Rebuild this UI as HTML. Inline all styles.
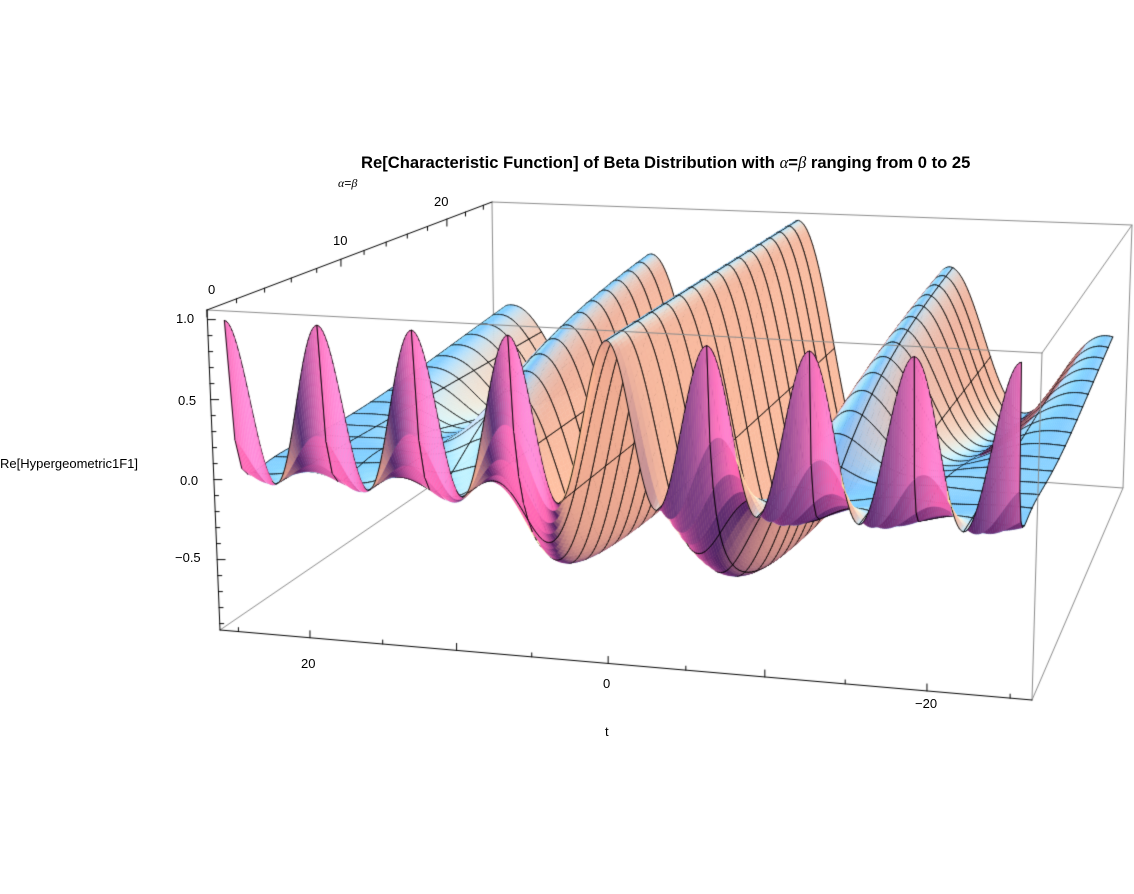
<!DOCTYPE html>
<html><head><meta charset="utf-8"><style>
html,body{margin:0;padding:0;background:#fff;width:1134px;height:894px;overflow:hidden}
#c{position:absolute;left:0;top:0}
.t{position:absolute;font-family:"Liberation Sans",sans-serif;font-size:13px;color:#000;white-space:nowrap;line-height:1}
i{font-family:"Liberation Serif",serif}
</style></head><body>
<canvas id="c" width="1134" height="894"></canvas>
<div class="t" style="left:361px;top:155px;font-size:16.6px;font-weight:bold;letter-spacing:0px">Re[Characteristic Function] of Beta Distribution with <i style="font-weight:normal">α</i>=<i style="font-weight:normal">β</i> ranging from 0 to 25</div>
<div class="t" style="left:338px;top:177px;font-size:12px"><i>α</i>=<i>β</i></div>
<div class="t" style="left:434px;top:195px">20</div>
<div class="t" style="left:333px;top:234px">10</div>
<div class="t" style="left:208px;top:283px">0</div>
<div class="t" style="left:176px;top:312px">1.0</div>
<div class="t" style="left:178px;top:394px">0.5</div>
<div class="t" style="left:180px;top:474px">0.0</div>
<div class="t" style="left:175px;top:551px">−0.5</div>
<div class="t" style="left:0px;top:457px">Re[Hypergeometric1F1]</div>
<div class="t" style="left:301px;top:657px">20</div>
<div class="t" style="left:603px;top:677px">0</div>
<div class="t" style="left:915px;top:697px">−20</div>
<div class="t" style="left:605px;top:725px">t</div>
<script>
const cv=document.getElementById('c'),g=cv.getContext('2d');
const C={H:[220,630],E:[1032,700],A:[207,310],D:[1042,353],B:[492,202],Cc:[1132,225],G:[495,442],F:[1123,488]};
function tri(u,v,w){
 const c000=C.H,c100=C.E,c001=C.A,c101=C.D,c011=C.B,c111=C.Cc,c010=C.G,c110=C.F;
 const r=[0,0];
 for(let k=0;k<2;k++){
  const x00=c000[k]*(1-u)+c100[k]*u, x10=c010[k]*(1-u)+c110[k]*u;
  const x01=c001[k]*(1-u)+c101[k]*u, x11=c011[k]*(1-u)+c111[k]*u;
  const b=x00*(1-v)+x10*v, t=x01*(1-v)+x11*v;
  r[k]=b*(1-w)+t*w;}
 return r;}
const TB=26.3;
function U(t){const s=(TB-t)/(2*TB);return s/(s+1.092*(1-s));}
function V(a){const s=a/25;return 1.33*s/(1+0.33*s);}
function W(z){return (z+0.94)/2.0;}
function f(t,a){const b=a+0.5,x=-t*t/16;let term=1,sum=1;
 for(let k=0;k<120;k++){term*=x/((b+k)*(k+1));sum+=term;if(Math.abs(term)<1e-14&&k>10)break;}
 return Math.cos(t/2)*sum;}
function P3(u,v,w){return [812*u+275*v-13*w,70*u-188*v-320*w,-282*u+745*v-117*w];}
function line(p,q,col,lw){g.strokeStyle=col;g.lineWidth=lw;g.beginPath();g.moveTo(p[0],p[1]);g.lineTo(q[0],q[1]);g.stroke();}
const gray='#8a8a8a';
line(C.B,C.Cc,gray,1);line(C.B,C.G,gray,1);line(C.G,C.H,gray,1);line(C.G,C.F,gray,1);line(C.Cc,C.F,gray,1);
const NT=400,NA=64,T=8*Math.PI;
const pts=[];
for(let j=0;j<=NA;j++){const a=25*j/NA,row=[];
 for(let i=0;i<=NT;i++){const t=T-2*T*i/NT;let z=f(t,a);const u=U(t),v=V(a),w=W(z);
  row.push({s:tri(u,v,w),p:P3(u,v,w)});}
 pts.push(row);}
const L=[
 [[-0.5,1,0.3],[0.15,0.62,0.6]],
 [[1,0.2,-0.6],[1.05,0.9,0.3]],
 [[-1,-0.3,0.5],[0.75,0.3,0.35]],
 [[0,0.5,1],[0.1,0.17,0.16]]
].map(([d,c])=>{const n=Math.hypot(...d);return [d.map(x=>x/n),c];});
const AMB=[0.3,0.12,0.38];
const quads=[];
for(let j=0;j<NA;j++)for(let i=0;i<NT;i++){
 const a=pts[j][i],b=pts[j][i+1],c=pts[j+1][i+1],d=pts[j+1][i];
 const e1=[c.p[0]-a.p[0],c.p[1]-a.p[1],c.p[2]-a.p[2]],e2=[d.p[0]-b.p[0],d.p[1]-b.p[1],d.p[2]-b.p[2]];
 let n=[e1[1]*e2[2]-e1[2]*e2[1],e1[2]*e2[0]-e1[0]*e2[2],e1[0]*e2[1]-e1[1]*e2[0]];
 if(n[2]>0)n=n.map(x=>-x);
 const nl=Math.hypot(...n);const m=[n[0]/nl,-n[1]/nl,-n[2]/nl];
 let col=AMB.slice();
 for(const [dd,cc] of L){const dt=Math.max(0,m[0]*dd[0]+m[1]*dd[1]+m[2]*dd[2]);for(let k=0;k<3;k++)col[k]+=dt*cc[k];}
 const cs='rgb('+col.map(x=>Math.min(255,Math.round(x*255))).join(',')+')';
 const depth=(a.p[2]+b.p[2]+c.p[2]+d.p[2])/4;
 quads.push({a,b,c,d,cs,depth,i,j});}
quads.sort((x,y)=>y.depth-x.depth);
g.lineJoin='round';g.lineCap='round';
function seg(p,q){g.beginPath();g.moveTo(p.s[0],p.s[1]);g.lineTo(q.s[0],q.s[1]);g.stroke();}
for(const q of quads){
 g.fillStyle=q.cs;g.strokeStyle=q.cs;g.lineWidth=0.5;
 g.beginPath();g.moveTo(q.a.s[0],q.a.s[1]);g.lineTo(q.b.s[0],q.b.s[1]);g.lineTo(q.c.s[0],q.c.s[1]);g.lineTo(q.d.s[0],q.d.s[1]);g.closePath();g.fill();g.stroke();
 g.strokeStyle='#000';g.lineWidth=0.9;
 if(q.j%4==0)seg(q.a,q.b);
 if((q.j+1)%4==0)seg(q.d,q.c);
 if(q.i%25==0)seg(q.a,q.d);
 if((q.i+1)%25==0)seg(q.b,q.c);
}
line(C.A,C.D,gray,1);line(C.D,C.E,gray,1);line(C.D,C.Cc,gray,1);line(C.E,C.F,gray,1);
line(C.H,C.E,'#000',1);line(C.A,C.H,'#000',1);line(C.A,C.B,'#000',1);
function tick(p,dx,dy){line(p,[p[0]+dx,p[1]+dy],'#000',1);}
for(let t=-25;t<=25;t+=5){const p=tri(U(t),0,0);const big=t%10==0;tick(p,0,big?-7:-4);}
for(let a=0;a<=25;a+=2){const p=tri(0,V(a),1);tick(p,0,a%10==0?7:4);}
for(let z=-0.9;z<=1.001;z+=0.1){const p=tri(0,0,W(z));const big=Math.abs(Math.round(z*10)%5)==0;tick(p,big?8:4,0);}
</script>
</body></html>
